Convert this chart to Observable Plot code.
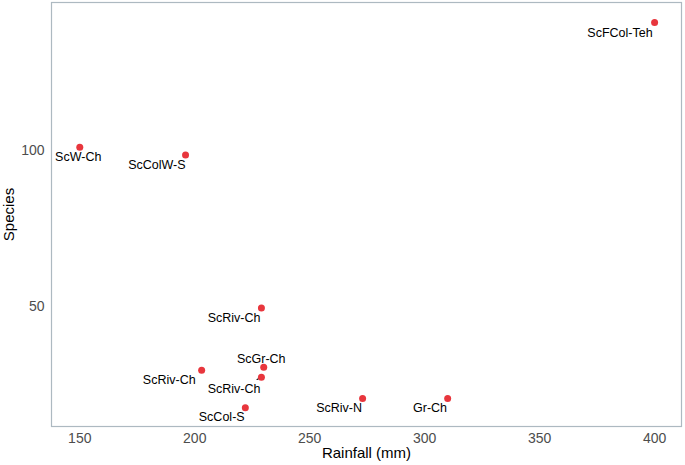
<!DOCTYPE html>
<html>
<head>
<meta charset="utf-8">
<script src="https://cdn.jsdelivr.net/npm/d3@7"></script>
<script src="https://cdn.jsdelivr.net/npm/@observablehq/plot@0.6"></script>
<style>
  html, body { margin: 0; padding: 0; background: #fff; }
  #chart svg { display: block; }
</style>
</head>
<body>
<div id="chart"></div>
<script>
// Data
const sites    = ["ScFCol-Teh", "ScW-Ch", "ScColW-S", "ScRiv-Ch", "ScRiv-Ch", "ScGr-Ch", "ScRiv-Ch", "ScCol-S", "ScRiv-N", "Gr-Ch"];
const rainfall = [400, 150, 196, 229, 203, 230, 229, 222, 273, 310];
const species  = [141, 101, 98.5, 49.5, 29.5, 30.5, 27.3, 17.5, 20.5, 20.5];
const xTicks   = [150, 200, 250, 300, 350, 400];
const yTicks   = [50, 100];

const data = sites.map((s, i) => ({site: s, rainfall: rainfall[i], species: species[i]}));

// label placement (pixel nudges, repel-style), separate from data
const labelPlacement = [
  {anchor: "end",    dx: -2,   dy: 10.5},
  {anchor: "middle", dx: -1.5, dy: 10},
  {anchor: "end",    dx: 0,    dy: 10},
  {anchor: "end",    dx: -1,   dy: 10},
  {anchor: "end",    dx: -6,   dy: 10},
  {anchor: "middle", dx: -2.5, dy: -8},
  {anchor: "end",    dx: -1,   dy: 11.8},
  {anchor: "end",    dx: -0.7, dy: 9.6},
  {anchor: "end",    dx: -0.6, dy: 10},
  {anchor: "end",    dx: -0.6, dy: 10}
];

const font = "'Liberation Sans', Arial, Helvetica, sans-serif";

const labelMarks = data.map((d, i) => Plot.text([d], {
  x: "rainfall", y: "species", text: "site",
  textAnchor: labelPlacement[i].anchor,
  dx: labelPlacement[i].dx, dy: labelPlacement[i].dy,
  lineAnchor: "middle",
  fill: "#000", fontSize: 12.5
}));

const chart = Plot.plot({
  width: 685,
  height: 465,
  marginLeft: 51,
  marginRight: 4,
  marginTop: 2,
  marginBottom: 39,
  style: {fontFamily: font, background: "#fff"},
  x: {domain: [137.7, 411.7]},
  y: {domain: [11.5, 147.4]},
  marks: [
    Plot.frame({stroke: "#adb9c1", strokeWidth: 1.2}),
    Plot.axisX(xTicks, {tickSize: 0, tickPadding: 7, fontSize: 14, fill: "#4d4d4d",
      label: "Rainfall (mm)", labelAnchor: "center", labelArrow: "none", labelOffset: 31}),
    Plot.axisY(yTicks, {tickSize: 0, tickPadding: 7, fontSize: 14, fill: "#4d4d4d",
      label: "Species", labelAnchor: "center", labelArrow: "none", labelOffset: 48}),
    Plot.vector([data[6]], {x: "rainfall", y: "species", anchor: "start",
      length: 5, rotate: 242, shape: "spike", r: 0.01, stroke: "#000", strokeWidth: 1, fill: "none"}),
    Plot.dot(data, {x: "rainfall", y: "species", r: 3.5, fill: "#e8363d", stroke: "none"}),
    ...labelMarks
  ]
});

// axis titles: black, larger
chart.querySelectorAll("g[aria-label='x-axis label'] text, g[aria-label='y-axis label'] text").forEach(t => {
  t.setAttribute("fill", "#000");
  t.setAttribute("font-size", "15");
});

document.getElementById("chart").appendChild(chart);
</script>
</body>
</html>
